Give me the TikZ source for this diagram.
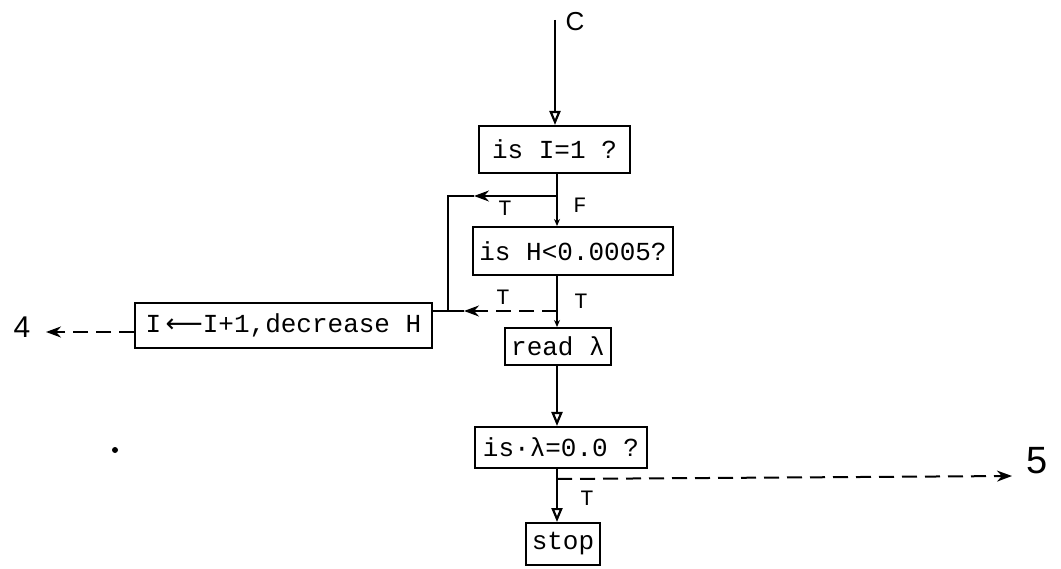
\documentclass[tikz,border=0pt]{standalone}
\usepackage{fontspec}
\setmonofont{Liberation Mono}
\setmainfont{Liberation Sans}
\newfontfamily\arrowfont{DejaVu Sans}
\usetikzlibrary{arrows.meta}
\tikzset{
  box/.style={draw, line width=2pt, inner sep=0pt, font=\fontsize{26}{28}\selectfont\ttfamily},
  flow/.style={line width=2pt},
  down/.style={flow, -{Triangle[open, length=14pt, width=11pt, line width=2.2pt]}},
  tick/.style={flow, -{Stealth[length=7pt, width=6pt]}},
  lefttip/.style={-{Stealth[length=15pt, width=11pt]}},
  dashline/.style={dash pattern=on 15pt off 8pt},
  lbl/.style={font=\fontsize{22}{24}\selectfont\ttfamily},
}
\begin{document}
\begin{tikzpicture}[x=1pt, y=-1pt]
\useasboundingbox (0,0) rectangle (1061,569);
% boxes
\node[box, minimum width=151pt, minimum height=47pt] (b1) at (554.5,149.5) {is I=1 ?};
\node[box, minimum width=200pt, minimum height=48pt] (b2) at (573,251) {is H<0.0005?};
\node[box, minimum width=297pt, minimum height=45pt] (b3) at (283.5,325.5) {I{\arrowfont\,⟵}I+1,decrease H};
\node[box, minimum width=106pt, minimum height=37pt] (b4) at (558,346.5) {read λ};
\node[box, minimum width=172pt, minimum height=41pt] (b5) at (561,447.5) {is·λ=0.0 ?};
\node[box, minimum width=74pt, minimum height=42pt] (b6) at (563,544) {stop};
% end labels
\node[font=\fontsize{26}{28}\selectfont] (C) at (575,22) {C};
\node[font=\fontsize{30}{32}\selectfont] (four) at (22,327) {4};
\node[font=\fontsize{38}{40}\selectfont] (five) at (1037,461) {5};
% branch labels
\node[lbl] (t1) at (505,208) {T};
\node[lbl] (f1) at (580,205) {F};
\node[lbl] (t2) at (503,297) {T};
\node[lbl] (t3) at (581,301) {T};
\node[lbl] (t4) at (587,498) {T};
% helper coordinates
\coordinate (top) at (555,20);
\coordinate (sx) at (557,0);
\coordinate (j1) at (557,196);
\coordinate (a1) at (474,196);
\coordinate (c1) at (448,196);
\coordinate (j2) at (557,311);
\coordinate (a2) at (464,311);
\coordinate (c2) at (448,311);
\coordinate (j3) at (557,479);
\coordinate (e5) at (1012,476);
\coordinate (l4) at (135,332);
\coordinate (e4) at (46,332);
% connectors
\draw[down] (top) -- (b1.north -| top);
\draw[flow] (b1.south -| sx) -- (j1);
\draw[tick] (j1) -- (b2.north -| sx);
\draw[flow, lefttip] (j1) -- (a1);
\draw[flow] (a1) -- (c1) -- (c2) -- (c2 -| b3.east);
\draw[flow] (b2.south -| sx) -- (j2);
\draw[flow, dashline, lefttip] (j2) -- (a2);
\draw[flow, dashline] (a2) -- (c2);
\draw[tick] (j2) -- (b4.north -| sx);
\draw[down] (b4.south -| sx) -- (b5.north -| sx);
\draw[down] (b5.south -| sx) -- (b6.north -| sx);
\draw[flow, dashline, lefttip] (j3) -- (e5);
\draw[flow, dashline, lefttip] (l4 -| b3.west) -- (e4);
% stray mark
\fill (115,450) circle (3pt);
\end{tikzpicture}
\end{document}
